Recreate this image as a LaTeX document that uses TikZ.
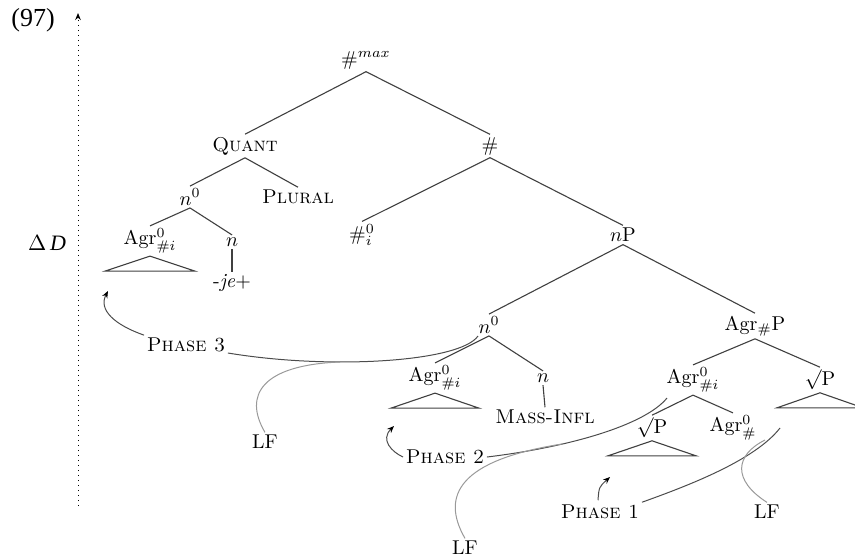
\documentclass[tikz,border=0pt]{standalone}
\usepackage{fontspec}
\newfontfamily\timesf{Liberation Serif}
\usetikzlibrary{arrows.meta}
\begin{document}
\begin{tikzpicture}[x=0.5pt,y=-0.5pt,
  lab/.style={inner sep=1.2pt},
  branch/.style={draw=black!75,line width=0.55pt},
  phaseline/.style={draw=black!70,line width=0.5pt},
  lfline/.style={draw=black!40,line width=0.5pt},
  phasearrow/.style={draw=black!70,line width=0.5pt,-{Stealth[length=3.5pt,width=2.8pt,black]}}]
\useasboundingbox (0,0) rectangle (855,558);

% left margin material
\node[lab,font=\timesf\fontsize{13}{15}\selectfont] (num) at (33,20) {(97)};
\node[lab,font=\timesf\fontsize{11}{13}\selectfont] (delta) at (47,243) {$\Delta$\,\textit{D}};
\coordinate (dbot) at (78,506);
\coordinate (dtop) at (78,13);
\draw[dotted,line width=0.5pt,-{Stealth[length=3.5pt,width=2.8pt]}] (dbot) -- (dtop);

% tree labels
\node[lab] (max) at (366,60) {$\#^{max}$};
\node[lab] (quant) at (245,146) {\textsc{Quant}};
\node[lab] (hash) at (490,146) {$\#$};
\node[lab] (n0a) at (190,197) {$n^0$};
\node[lab] (plural) at (298,197) {\textsc{Plural}};
\node[lab] (agra) at (150,241) {Agr$^0_{\#i}$};
\node[lab] (na) at (232,242) {$n$};
\node[lab] (je) at (232,283) {-\textit{je}+};
\node[lab] (hi) at (362,235) {$\#^0_i$};
\node[lab] (nP) at (623,235) {$n$P};
\node[lab] (n0b) at (489,325) {$n^0$};
\node[lab] (agrP) at (755,326) {Agr$_\#$P};
\node[lab] (agrb) at (435,378) {Agr$^0_{\#i}$};
\node[lab] (nb) at (543,378) {$n$};
\node[lab] (mass) at (545,417) {\textsc{Mass-Infl}};
\node[lab] (agrc) at (693,380) {Agr$^0_{\#i}$};
\node[lab] (rootA) at (820,380) {$\surd$P};
\node[lab] (rootB) at (652,428) {$\surd$P};
\node[lab] (agrd) at (733,428) {Agr$^0_{\#}$};

% phase and LF labels
\node[lab] (p3) at (186,345) {\textsc{Phase 3}};
\node[lab] (p2) at (445,457) {\textsc{Phase 2}};
\node[lab] (p1) at (600,512) {\textsc{Phase 1}};
\node[lab] (lf1) at (265,442) {LF};
\node[lab] (lf2) at (465,548) {LF};
\node[lab] (lf3) at (767,512) {LF};

% branches
\draw[branch] (max.south) -- (quant.north);
\draw[branch] (max.south) -- (hash.north);
\draw[branch] (quant.south) -- (n0a.north);
\draw[branch] (quant.south) -- (plural.north);
\draw[branch] (n0a.south) -- (agra.north);
\draw[branch] (n0a.south) -- (na.north);
\draw[branch] (na.south) -- (je.north);
\draw[branch] (agra.south) -- ++(-45,15) -- ++(90,0) -- cycle;
\draw[branch] (hash.south) -- (hi.north);
\draw[branch] (hash.south) -- (nP.north);
\draw[branch] (nP.south) -- (n0b.north);
\draw[branch] (nP.south) -- (agrP.north);
\draw[branch] (n0b.south) -- (agrb.north);
\draw[branch] (n0b.south) -- (nb.north);
\draw[branch] (nb.south) -- (mass.north);
\draw[branch] (agrb.south) -- ++(-44,15) -- ++(88,0) -- cycle;
\draw[branch] (agrP.south) -- (agrc.north);
\draw[branch] (agrP.south) -- (rootA.north);
\draw[branch] (agrc.south) -- (rootB.north);
\draw[branch] (agrc.south) -- (agrd.north);
\draw[branch] (rootA.south) -- ++(-43,15) -- ++(86,0) -- cycle;
\draw[branch] (rootB.south) -- ++(-44,15) -- ++(88,0) -- cycle;

% coordinates for free ends
\coordinate (t3) at (108,291);
\coordinate (e3) at (478,336);
\coordinate (m1) at (340,362);
\coordinate (t2) at (394,426);
\coordinate (e2) at (667,398);
\coordinate (m2) at (562,444);
\coordinate (t1) at (610,477);
\coordinate (e1) at (780,428);
\coordinate (m3) at (765,440);

% phase curves
\draw[phasearrow] (p3.north west) .. controls (115,325) and (98,310) .. (t3);
\draw[phaseline] (p3.east) ++(0,8) .. controls (330,370) and (460,362) .. (e3);
\draw[lfline] (lf1.north) .. controls (243,395) and (262,365) .. (m1);

\draw[phasearrow] (p2.west) .. controls (392,452) and (380,440) .. (t2);
\draw[phaseline] (p2.east) .. controls (570,447) and (645,425) .. (e2);
\draw[lfline] (lf2.north) .. controls (440,495) and (460,460) .. (m2);

\draw[phasearrow] (p1.north) ++(-2,-2) .. controls (599,487) .. (t1);
\draw[phaseline] (p1.north east) .. controls (690,485) and (755,460) .. (e1);
\draw[lfline] (lf3.north) .. controls (732,480) and (735,455) .. (m3);
\end{tikzpicture}
\end{document}
